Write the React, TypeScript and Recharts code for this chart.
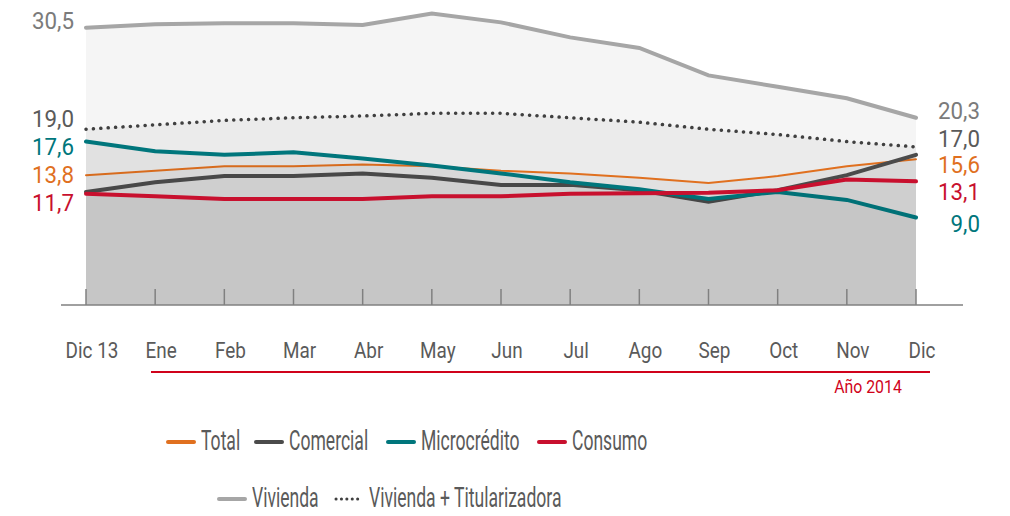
import { ComposedChart, Area, XAxis, YAxis, LabelList, Legend } from 'recharts';

const FONT = 'Roboto, "Liberation Sans", sans-serif';

const months = ['Dic 13', 'Ene', 'Feb', 'Mar', 'Abr', 'May', 'Jun', 'Jul', 'Ago', 'Sep', 'Oct', 'Nov', 'Dic'];
const vivienda = [30.5, 30.9, 31.0, 31.0, 30.8, 32.1, 31.1, 29.4, 28.2, 25.1, 23.8, 22.5, 20.3];
const viviendaTit = [19.0, 19.5, 20.0, 20.3, 20.5, 20.8, 20.8, 20.3, 19.8, 19.0, 18.4, 17.6, 17.0];
const total = [13.8, 14.3, 14.8, 14.8, 15.0, 14.8, 14.3, 14.0, 13.5, 12.9, 13.7, 14.8, 15.6];
const comercial = [11.9, 13.0, 13.7, 13.7, 14.0, 13.5, 12.7, 12.7, 12.1, 10.8, 12.1, 13.8, 16.1];
const microcredito = [17.6, 16.5, 16.1, 16.4, 15.7, 14.9, 14.0, 13.0, 12.2, 11.1, 11.9, 11.0, 9.0];
const consumo = [11.7, 11.4, 11.1, 11.1, 11.1, 11.4, 11.4, 11.7, 11.75, 11.8, 12.1, 13.3, 13.1];

const data = months.map((month, i) => ({
  month,
  vivienda: vivienda[i],
  viviendaTit: viviendaTit[i],
  total: total[i],
  comercial: comercial[i],
  microcredito: microcredito[i],
  consumo: consumo[i],
}));

// drawing order: back to front
const series = [
  { key: 'vivienda', name: 'Vivienda', color: '#a6a6a6', width: 4, labelColor: '#7b7b7b', left: -6, right: -7 },
  { key: 'viviendaTit', name: 'Vivienda + Titularizadora', color: '#404040', width: 3.5, dash: '0.1 7.3', labelColor: '#5a5a5a', left: -10, right: -8 },
  { key: 'total', name: 'Total', color: '#e0701f', width: 2, labelColor: '#e0701f', left: 0, right: 6 },
  { key: 'comercial', name: 'Comercial', color: '#4b4b4b', width: 4, labelColor: '', left: null, right: null },
  { key: 'microcredito', name: 'Microcrédito', color: '#00767c', width: 4, labelColor: '#00767c', left: 6, right: 7 },
  { key: 'consumo', name: 'Consumo', color: '#c8102e', width: 4, labelColor: '#c8102e', left: 10, right: 11 },
];

const legendRows = [
  { top: 442, items: [['total', 167], ['comercial', 255], ['microcredito', 387], ['consumo', 538]] },
  { top: 499, items: [['vivienda', 218], ['viviendaTit', 335]] },
];

const fmt = (v: number) => v.toFixed(1).replace('.', ',');

const MonthTick = (props: any) => {
  const { x, y, payload } = props;
  return (
    <g>
      <line x1={x} x2={x} y1={y - 16} y2={y} stroke="#808080" strokeWidth={1.5} />
      <text
        transform={`translate(${x + 6},${y + 53}) scale(0.86,1)`}
        textAnchor="middle"
        fill="#5a5a5a"
        fontSize={22}
        fontFamily={FONT}
      >
        {payload.value}
      </text>
    </g>
  );
};

const endLabel = (s: any) => (props: any) => {
  const { x, y, value, index } = props;
  if (s.left === null) return null;
  let tx: number, ty: number;
  if (index === 0) {
    tx = x - 12;
    ty = y + s.left;
  } else if (index === months.length - 1) {
    tx = x + 64;
    ty = y + s.right;
  } else return null;
  return (
    <text
      transform={`translate(${tx},${ty}) scale(0.93,1)`}
      textAnchor="end"
      dominantBaseline="central"
      fill={s.labelColor}
      fontSize={24}
      fontFamily={FONT}
    >
      {fmt(value)}
    </text>
  );
};

const LegendContent = () => (
  <div style={{ position: 'relative', width: 1010, height: 516, pointerEvents: 'none' }}>
    {legendRows.map((row) =>
      row.items.map(([key, left]) => {
        const s = series.find((d) => d.key === key)!;
        return (
          <div key={key as string}>
            <svg style={{ position: 'absolute', left: (left as number) - 2, top: row.top - 5 }} width={32} height={10}>
              <line
                x1={3}
                x2={s.dash ? 27 : 29}
                y1={5}
                y2={5}
                stroke={s.color}
                strokeWidth={s.dash ? 3 : 4}
                strokeLinecap="round"
                strokeDasharray={s.dash ? '0.1 5.3' : undefined}
              />
            </svg>
            <span
              style={{
                position: 'absolute',
                left: (left as number) + 34,
                top: row.top - 15,
                fontFamily: FONT,
                fontSize: 27,
                lineHeight: '28px',
                color: '#5a5a5a',
                whiteSpace: 'nowrap',
                transform: 'scaleX(0.65)',
                transformOrigin: 'left center',
              }}
            >
              {s.name}
            </span>
          </div>
        );
      })
    )}
  </div>
);

export default function App() {
  return (
    <div style={{ position: 'relative', width: 1010, height: 516, background: '#fff' }}>
      <style>{`body{margin:0}`}</style>
      <ComposedChart width={1010} height={516} data={data} margin={{ top: 10, right: 47, left: 61, bottom: 171 }}>
        <YAxis hide type="number" domain={[-0.9, 32.5]} />
        {series.map((s) => (
          <Area
            key={s.key}
            type="linear"
            dataKey={s.key}
            name={s.name}
            stroke={s.color}
            strokeWidth={s.width}
            strokeDasharray={s.dash}
            strokeLinecap="round"
            fill="#000"
            fillOpacity={0.04}
            baseValue="dataMin"
            dot={false}
            activeDot={false}
            isAnimationActive={false}
          >
            <LabelList dataKey={s.key} content={endLabel(s)} />
          </Area>
        ))}
        <XAxis
          dataKey="month"
          padding={{ left: 25, right: 47 }}
          height={40}
          tickSize={0}
          tickMargin={0}
          tickLine={false}
          axisLine={{ stroke: '#808080', strokeWidth: 1.5 }}
          tick={<MonthTick />}
          interval={0}
        />
        <Legend
          layout="horizontal"
          verticalAlign="middle"
          content={<LegendContent />}
          wrapperStyle={{ top: 0, left: 0, width: 1010, height: 516 }}
        />
      </ComposedChart>
      <div style={{ position: 'absolute', left: 151, top: 371, width: 779, height: 1.5, background: '#d0021b' }} />
      <div
        style={{
          position: 'absolute',
          left: 818,
          top: 376,
          width: 100,
          textAlign: 'center',
          fontFamily: FONT,
          fontSize: 18,
          color: '#d0021b',
          transform: 'scaleX(0.88)',
        }}
      >
        Año 2014
      </div>
    </div>
  );
}
